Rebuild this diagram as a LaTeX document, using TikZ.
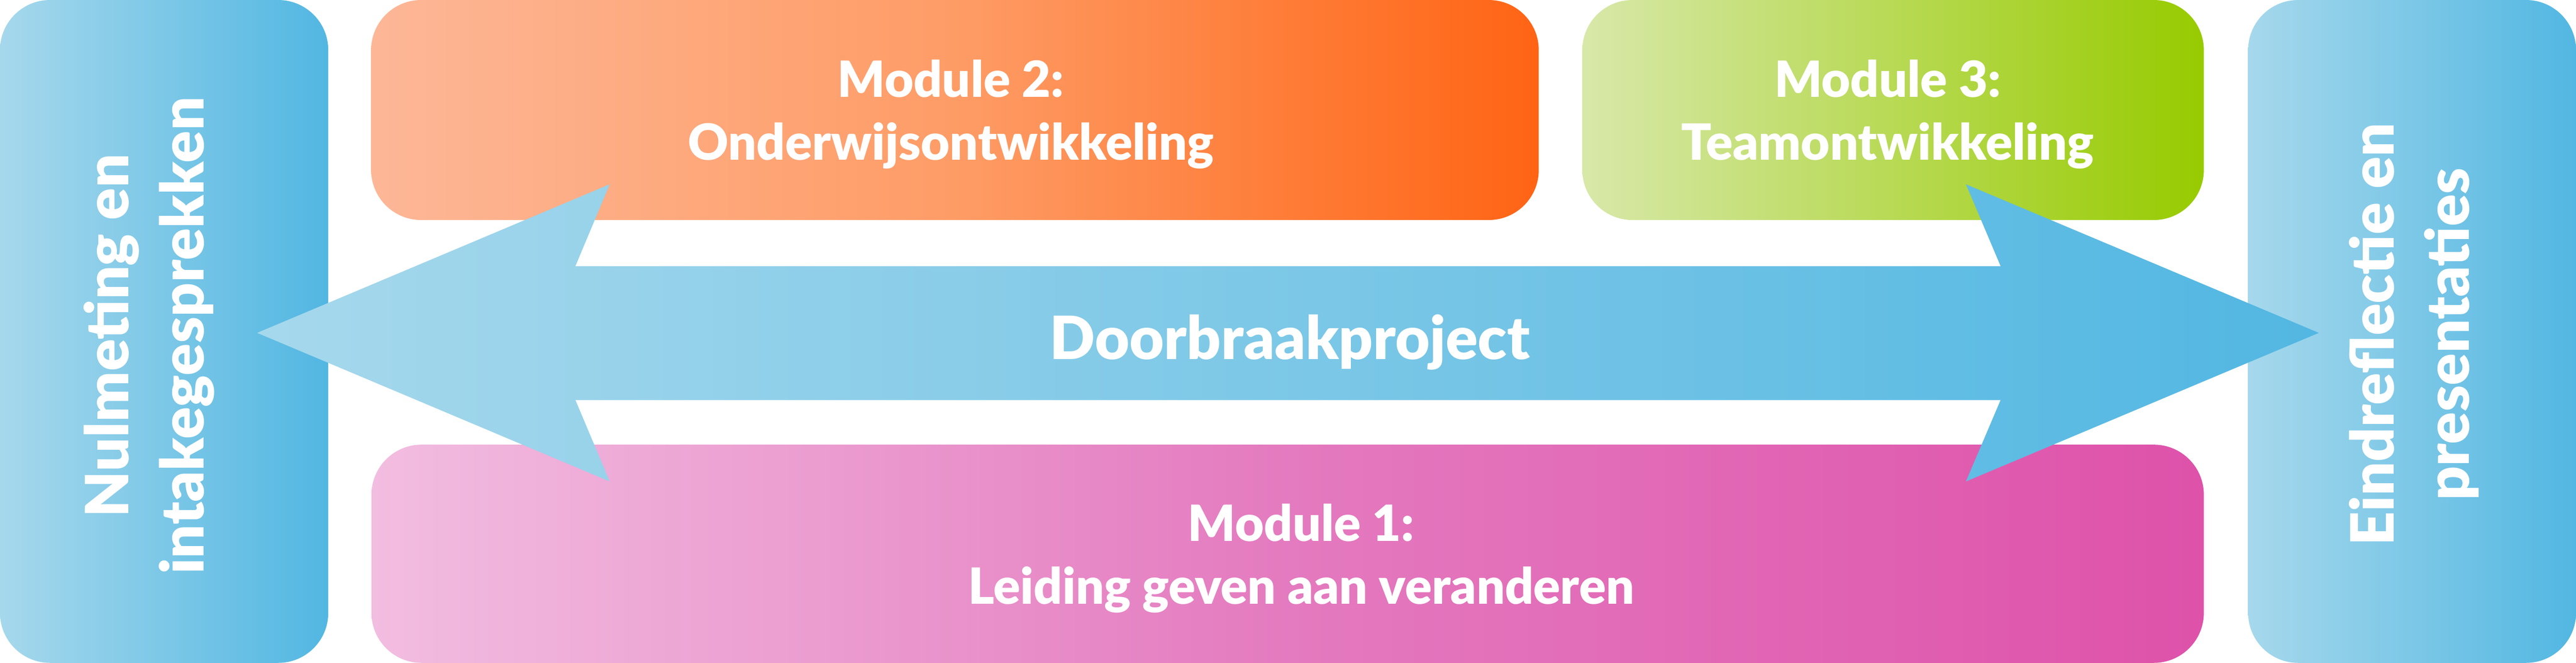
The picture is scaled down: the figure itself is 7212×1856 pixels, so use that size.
\documentclass[tikz,border=0pt]{standalone}
\usepackage{fontspec}
\setmainfont{Lato}[BoldFont={Lato Black}]
\usepackage{tikz}
\usetikzlibrary{positioning}
\definecolor{bluelight}{HTML}{A6D8EC}
\definecolor{bluedark}{HTML}{52B7E2}
\definecolor{orangelight}{HTML}{FDB797}
\definecolor{orangemid}{HTML}{FE9C66}
\definecolor{orangedark}{HTML}{FF6414}
\definecolor{greenlight}{HTML}{D8E8A9}
\definecolor{greendark}{HTML}{97CB00}
\definecolor{pinklight}{HTML}{F2BDE0}
\definecolor{pinkmid}{HTML}{E47ABF}
\definecolor{pinkdark}{HTML}{DE52AA}
\tikzstyle{block}=[rectangle,rounded corners=14mm,inner sep=0pt,outer sep=0pt]
\tikzstyle{txt}=[text=white,align=center,inner sep=0pt,font=\bfseries\fontsize{39.7}{50.1}\selectfont]
\tikzstyle{bigtxt}=[txt,font=\bfseries\fontsize{47.5}{59.8}\selectfont]

\begin{document}
\begin{tikzpicture}[x=0.1mm,y=-0.1mm]
  \useasboundingbox (0,0) rectangle (7212,1856);
  \node[block, left color=bluelight, right color=bluedark, minimum width=91.9mm, minimum height=185.6mm] (nulmeting) at (459.5,928) {};
  \node[block, left color=bluelight, right color=bluedark, minimum width=91.8mm, minimum height=185.6mm] (eind) at (6753,928) {};
  \node[block, left color=orangelight, right color=orangedark, middle color=orangemid, minimum width=326.9mm, minimum height=61.6mm] (mod2) at (2673.5,308) {};
  \node[block, left color=greenlight, right color=greendark, minimum width=174mm, minimum height=61.6mm] (mod3) at (5300,308) {};
  \node[block, left color=pinklight, right color=pinkdark, middle color=pinkmid, minimum width=513mm, minimum height=61.1mm] (mod1) at (3605,1550.5) {};
  \shade[left color=bluelight, right color=bluedark] (720,932) -- (1707,516) -- (1611,745) -- (5601,745) -- (5504,516)
    -- (6492,932) -- (5504,1348) -- (5601,1120) -- (1611,1120) -- (1707,1348) -- cycle;
  \node[bigtxt] (project) at (3611,958) {Doorbraakproject};
  \node[txt] (mod2txt) at (2662,320) {Module 2:\\Onderwijsontwikkeling};
  \node[txt] (mod3txt) at (5285,320) {Module 3:\\Teamontwikkeling};
  \node[txt] (mod1txt) at (3643,1564) {Module 1:\\Leiding geven aan veranderen};
  \node[bigtxt, rotate=90] (nulmetingtxt) at (417,940) {Nulmeting en\\intakegesprekken};
  \node[bigtxt, rotate=90] (eindtxt) at (6758,936) {Eindreflectie en\\presentaties};
\end{tikzpicture}
\end{document}
